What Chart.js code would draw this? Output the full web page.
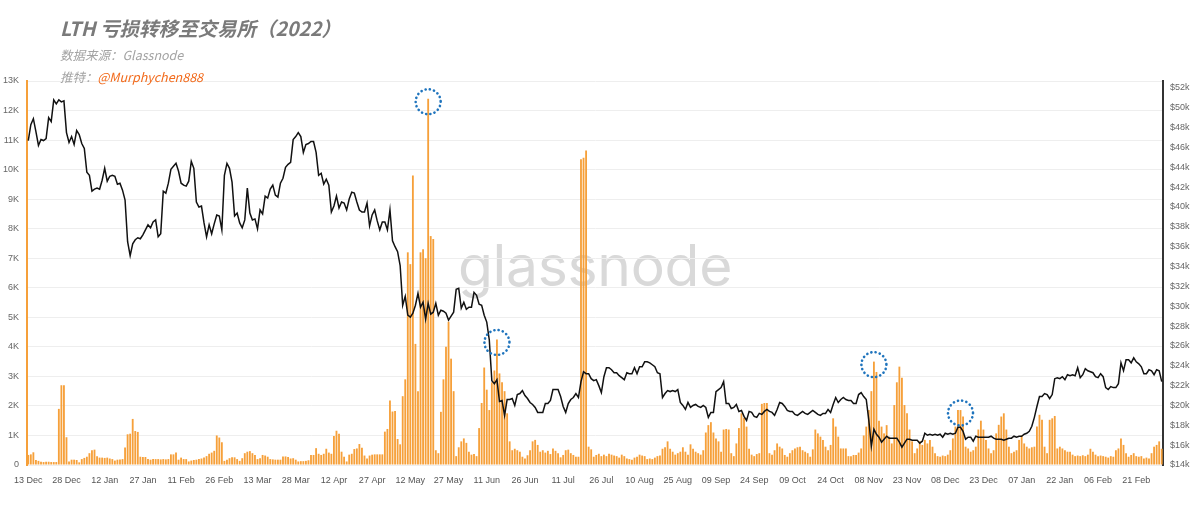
<!DOCTYPE html>
<html>
<head>
<meta charset="utf-8">
<script src="https://cdn.jsdelivr.net/npm/chart.js@4.4.1/dist/chart.umd.min.js"></script>
<style>
  html, body { margin: 0; padding: 0; background: #fff; }
  #wrap { position: relative; width: 1200px; height: 505px; overflow: hidden; }
  #mark { position: absolute; left: 0; top: 237px; width: 1190px; text-align: center;
          font: 400 57px/57px Inter, sans-serif; color: #d9d9d9; letter-spacing: -0.3px; }
  canvas { position: absolute; left: 0; top: 0; }
  .t { position: absolute; left: 60px; font-family: "Noto Sans CJK SC", sans-serif;
       font-style: italic; white-space: nowrap; }
  #title { top: 17px; font-size: 19.5px; line-height: 22px; font-weight: 700; color: #7a7a7a; }
  #src { top: 47px; font-size: 12.5px; line-height: 16px; color: #a3a3a3; }
  #tw { top: 69px; font-size: 12.5px; line-height: 16px; color: #a3a3a3; }
  #tw span { color: #f26a1b; }
</style>
</head>
<body>
<div id="wrap">
  <div id="mark">glassnode</div>
  <canvas id="chart" width="1200" height="505"></canvas>
  <div class="t" id="title">LTH 亏损转移至交易所（2022）</div>
  <div class="t" id="src">数据来源：Glassnode</div>
  <div class="t" id="tw">推特：<span>@Murphychen888</span></div>
</div>
<script>
// daily, 13 Dec 2021 -> 03 Mar 2023
const startDay = Date.UTC(2021, 11, 13);

// LTH realized-loss coins sent to exchanges (K), one row per month
const lthLoss = [
  0.34,0.36,0.43,0.17,0.14,0.11,0.10,0.11,0.11,0.10,0.10,0.10,1.90,2.70,2.70,0.94,0.12,0.18,0.18,
  0.17,0.09,0.20,0.24,0.28,0.40,0.50,0.52,0.30,0.25,0.25,0.24,0.25,0.22,0.20,0.15,0.18,0.19,0.20,0.59,1.04,1.06,1.56,1.15,1.12,0.28,0.27,0.27,0.20,0.18,0.20,
  0.20,0.20,0.19,0.20,0.19,0.20,0.36,0.36,0.42,0.18,0.25,0.20,0.20,0.12,0.15,0.17,0.18,0.20,0.22,0.25,0.30,0.38,0.42,0.48,1.00,0.93,0.77,0.14,
  0.18,0.23,0.26,0.26,0.20,0.14,0.23,0.40,0.45,0.47,0.40,0.34,0.20,0.23,0.34,0.32,0.28,0.20,0.19,0.18,0.18,0.18,0.29,0.29,0.27,0.22,0.23,0.18,0.12,0.13,0.13,
  0.14,0.16,0.34,0.34,0.57,0.38,0.34,0.38,0.55,0.42,0.38,0.98,1.16,1.06,0.45,0.28,0.12,0.35,0.38,0.54,0.56,0.71,0.58,0.32,0.22,0.32,0.35,0.36,0.36,0.36,
  0.36,1.13,1.22,2.18,1.81,1.83,0.88,0.70,2.33,2.90,7.20,6.80,9.80,4.10,2.50,7.20,7.30,7.00,12.40,7.75,7.65,0.50,0.40,1.80,2.90,4.00,4.85,3.60,2.50,0.30,0.60,
  0.80,0.90,0.75,0.45,0.35,0.37,0.30,1.25,2.10,3.30,2.55,1.86,2.80,3.20,4.25,3.10,2.80,2.50,1.75,0.80,0.50,0.55,0.50,0.45,0.28,0.22,0.33,0.50,0.80,0.85,
  0.68,0.45,0.50,0.42,0.48,0.37,0.56,0.48,0.40,0.26,0.34,0.50,0.52,0.40,0.34,0.28,0.28,10.35,10.40,10.65,0.62,0.53,0.28,0.34,0.38,0.30,0.35,0.30,0.38,0.35,0.32,
  0.30,0.25,0.35,0.30,0.22,0.20,0.18,0.25,0.28,0.35,0.32,0.30,0.20,0.22,0.20,0.25,0.30,0.32,0.55,0.60,0.80,0.55,0.45,0.35,0.40,0.45,0.60,0.45,0.35,0.70,0.55,
  0.45,0.40,0.35,0.50,1.10,1.35,1.45,1.10,0.90,0.80,0.45,1.20,1.22,1.20,0.40,0.30,0.73,1.25,1.75,1.60,1.30,0.55,0.35,0.30,0.37,0.40,2.07,2.10,2.10,0.40,
  0.35,0.50,0.73,0.62,0.56,0.34,0.28,0.40,0.50,0.56,0.60,0.62,0.50,0.45,0.40,0.28,0.53,1.20,1.07,0.96,0.85,0.62,0.50,0.68,1.58,1.30,0.96,0.56,0.56,0.56,0.30,
  0.30,0.34,0.34,0.42,0.56,1.00,1.30,1.86,2.50,3.50,3.15,1.50,1.30,1.07,1.35,0.96,0.73,2.03,2.80,3.33,2.95,2.03,1.75,1.20,0.80,0.40,0.56,0.80,0.68,0.85,
  0.73,0.85,0.62,0.40,0.30,0.28,0.32,0.30,0.35,0.50,0.90,1.30,1.86,1.86,1.64,0.62,0.56,0.45,0.50,0.62,1.20,1.50,1.20,0.85,0.56,0.40,0.50,1.07,1.36,1.64,1.75,
  1.20,0.62,0.40,0.45,0.50,0.85,1.00,0.73,0.62,0.56,0.60,0.62,1.30,1.70,1.53,0.62,0.40,1.53,1.58,1.66,0.56,0.62,0.56,0.50,0.45,0.45,0.35,0.30,0.32,0.30,0.33,
  0.30,0.35,0.55,0.45,0.35,0.30,0.32,0.30,0.28,0.25,0.30,0.28,0.50,0.56,0.90,0.68,0.40,0.28,0.34,0.40,0.30,0.28,0.30,0.22,0.25,0.22,0.40,0.62,
  0.68,0.80,0.55
];

// BTC price ($k)
const btcPrice = [
  46.7,48.3,48.9,47.6,46.2,46.8,46.7,46.9,49.0,48.6,50.8,50.4,50.8,50.6,50.7,47.5,46.5,47.1,46.3,
  47.7,47.3,46.4,45.9,43.5,43.2,41.6,41.8,41.9,41.8,42.7,43.9,42.6,43.1,43.2,43.1,42.3,42.4,41.7,40.7,36.5,35.1,36.3,36.7,36.9,36.8,37.2,37.7,38.2,37.9,38.5,
  38.7,37.0,37.3,41.6,41.4,42.4,43.8,44.1,44.4,43.6,42.4,42.2,42.1,42.6,44.6,43.9,40.5,40.0,40.1,38.4,37.0,38.2,37.3,38.3,39.2,39.1,37.7,43.2,
  44.4,43.9,42.5,39.1,39.4,38.4,37.9,38.7,41.9,39.4,38.7,38.8,37.8,39.7,39.3,41.1,40.9,41.8,42.2,41.2,41.0,42.4,42.9,44.0,44.3,44.5,46.8,47.1,47.5,47.1,45.5,
  46.3,46.4,46.6,46.6,45.5,43.2,43.4,42.3,42.8,42.2,39.5,40.1,41.1,39.9,40.5,40.4,39.7,40.8,41.5,41.4,40.5,39.7,39.5,39.5,40.4,38.1,39.2,39.7,38.6,37.7,
  38.5,38.5,37.7,39.7,36.6,36.0,35.5,34.1,30.1,31.0,29.1,28.9,29.3,30.1,31.3,29.9,30.4,28.7,30.3,29.2,29.4,30.3,29.1,29.6,29.5,29.3,28.6,29.0,29.4,31.7,31.8,
  29.8,30.4,29.7,29.9,29.9,31.4,31.1,30.2,30.1,29.1,28.4,26.6,22.5,22.2,22.6,20.4,20.5,19.0,20.6,20.6,20.7,20.0,21.1,21.2,21.5,21.0,20.7,20.3,20.1,19.8,
  19.3,19.3,19.3,20.2,20.2,20.5,21.6,21.6,21.6,20.9,19.9,19.3,20.2,20.6,20.8,21.2,20.8,22.4,23.4,23.2,23.2,22.7,22.5,22.6,22.0,21.3,22.9,23.8,23.8,23.6,23.3,
  23.3,23.0,22.8,22.6,23.3,23.2,23.2,23.8,23.2,23.9,23.9,24.4,24.4,24.3,24.1,23.9,23.3,23.2,20.8,21.2,21.5,21.4,21.5,21.4,21.6,20.3,20.0,19.6,20.3,19.8,20.0,
  20.1,19.9,19.8,20.0,19.8,18.8,19.3,19.3,21.4,21.6,21.8,22.4,20.2,20.2,19.7,19.8,20.1,19.4,19.5,18.9,18.5,19.4,19.3,18.9,18.8,19.2,19.1,19.4,19.6,19.4,
  19.3,19.0,19.6,20.3,20.2,19.9,19.5,19.4,19.4,19.1,19.0,19.2,19.4,19.2,19.1,19.3,19.5,19.3,19.1,19.0,19.2,19.2,19.6,19.3,20.1,20.8,20.3,20.6,20.8,20.6,20.5,
  20.5,20.2,20.2,21.1,21.3,20.9,20.6,18.5,15.9,17.6,17.1,16.8,16.3,16.6,16.9,16.7,16.7,16.7,16.7,16.3,15.8,16.2,16.6,16.6,16.5,16.5,16.5,16.2,16.4,17.2,
  17.0,17.1,17.0,17.1,17.0,17.1,16.8,17.2,17.1,17.2,17.1,17.2,17.8,17.8,17.4,16.6,16.8,16.8,16.4,16.9,16.8,16.8,16.8,16.8,16.8,16.9,16.7,16.6,16.6,16.6,16.5,
  16.6,16.7,16.7,16.9,16.8,16.9,16.9,17.1,17.2,17.4,17.9,18.8,19.9,20.9,20.9,21.2,21.1,20.7,21.1,22.7,22.8,22.7,22.9,22.6,23.1,23.0,23.1,23.0,23.8,22.8,23.1,
  23.7,23.5,23.4,23.3,22.9,22.8,23.2,22.9,21.8,21.6,21.9,21.8,21.8,22.2,24.3,23.5,24.6,24.6,24.3,24.8,24.4,24.2,23.9,23.2,23.2,23.6,23.5,23.1,
  23.6,23.5,22.4
];

const tickLabels = ['13 Dec','28 Dec','12 Jan','27 Jan','11 Feb','26 Feb','13 Mar','28 Mar','12 Apr','27 Apr',
  '12 May','27 May','11 Jun','26 Jun','11 Jul','26 Jul','10 Aug','25 Aug','09 Sep','24 Sep',
  '09 Oct','24 Oct','08 Nov','23 Nov','08 Dec','23 Dec','07 Jan','22 Jan','06 Feb','21 Feb'];
const lossTicks = [0,1,2,3,4,5,6,7,8,9,10,11,12,13];
const priceTicks = [14,16,18,20,22,24,26,28,30,32,34,36,38,40,42,44,46,48,50,52];
const circled = [157, 184, 332, 366]; // bars marked with a dotted ring

const dayLabels = lthLoss.map((v, i) => new Date(startDay + i * 86400000).toISOString().slice(0, 10));

const orange = '#f6a03a';

// dotted blue rings around the marked bars
const ringPlugin = {
  id: 'rings',
  afterDatasetsDraw(chart) {
    const ctx = chart.ctx;
    const xs = chart.scales.x, ys = chart.scales.yLoss;
    ctx.save();
    ctx.strokeStyle = '#1f74bd';
    ctx.lineWidth = 2.6;
    ctx.lineCap = 'round';
    ctx.setLineDash([0.1, 4.2]);
    circled.forEach(i => {
      const x = xs.getPixelForValue(i);
      const y = ys.getPixelForValue(lthLoss[i]) + 3;
      ctx.beginPath();
      ctx.arc(x, y, 12.5, 0, Math.PI * 2);
      ctx.stroke();
    });
    ctx.restore();
  }
};

const tickFont = { family: 'Liberation Sans, Arial, sans-serif', size: 9 };

new Chart(document.getElementById('chart').getContext('2d'), {
  type: 'bar',
  data: {
    labels: dayLabels,
    datasets: [
      {
        type: 'line',
        label: 'Price',
        data: btcPrice,
        yAxisID: 'yPrice',
        borderColor: '#111',
        borderWidth: 1.5,
        pointRadius: 0,
        tension: 0,
        order: 0
      },
      {
        type: 'bar',
        label: 'LTH loss to exchanges',
        data: lthLoss,
        yAxisID: 'yLoss',
        backgroundColor: orange,
        barPercentage: 0.72,
        categoryPercentage: 1,
        order: 1
      }
    ]
  },
  options: {
    responsive: false,
    animation: false,
    layout: { padding: { top: 81, left: 0, right: 0, bottom: 0 } },
    plugins: { legend: { display: false }, tooltip: { enabled: false } },
    scales: {
      x: {
        grid: { display: false },
        border: { display: false },
        ticks: {
          autoSkip: false,
          maxRotation: 0,
          padding: 2,
          color: '#555',
          font: { family: tickFont.family, size: 9 },
          callback: (v, i) => (i % 15 === 0 ? tickLabels[i / 15] : null)
        },
        afterFit: s => { s.height = 40; }
      },
      yLoss: {
        position: 'left',
        min: 0,
        max: 13,
        afterBuildTicks: s => { s.ticks = lossTicks.map(v => ({ value: v })); },
        grid: { color: '#eeeeee', drawTicks: false },
        border: { color: orange, width: 2 },
        ticks: { padding: 8, color: '#666', font: tickFont, callback: v => (v === 0 ? '0' : v + 'K') },
        afterFit: s => { s.width = 27; }
      },
      yPrice: {
        position: 'right',
        min: 14,
        max: 52.7,
        afterBuildTicks: s => { s.ticks = priceTicks.map(v => ({ value: v })); },
        grid: { display: false, drawOnChartArea: false, drawTicks: false },
        border: { color: '#333', width: 2 },
        ticks: { padding: 7, color: '#666', font: tickFont, callback: v => '$' + v + 'k' },
        afterFit: s => { s.width = 37; }
      }
    }
  },
  plugins: [ringPlugin]
});
</script>
</body>
</html>
